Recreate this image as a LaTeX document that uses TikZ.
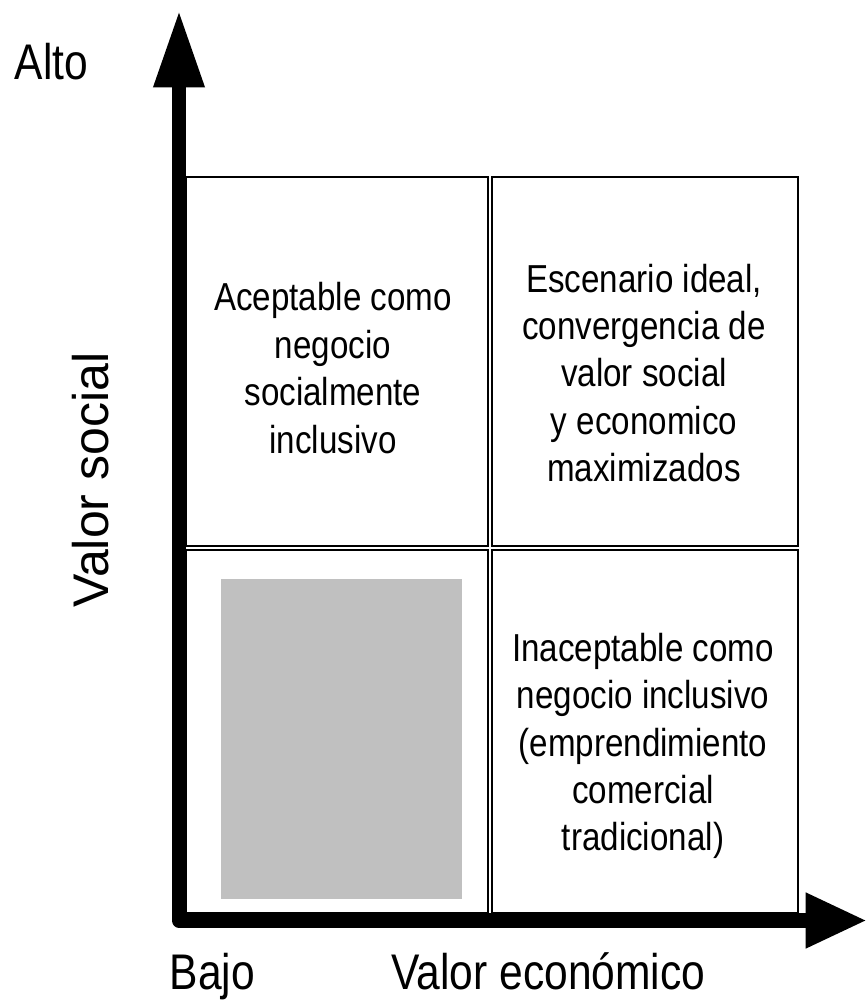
\documentclass[tikz,border=0pt]{standalone}
\usepackage{fontspec}
\setmainfont{Liberation Sans}
\newfontfamily\narrowfont{Liberation Sans}[FakeStretch=0.85]
\usetikzlibrary{arrows.meta}
\begin{document}
\begin{tikzpicture}[x=0.02cm, y=-0.02cm,
    quadrant/.style={draw=black, line width=0.8pt},
    boxtext/.style={align=center, inner sep=0pt, font=\narrowfont\fontsize{22.2pt}{27pt}\selectfont},
    axislabel/.style={inner sep=0pt, font=\narrowfont\fontsize{28.5pt}{34pt}\selectfont}]
            \useasboundingbox (0,0) rectangle (867,1000);

            % Cuadrantes
            \draw[quadrant] (186,177) rectangle (488,546);
            \draw[quadrant] (492,177) rectangle (798,546);
            \draw[quadrant] (186,550) rectangle (488,913);
            \draw[quadrant] (492,550) rectangle (798,913);
            \fill[fill={rgb,255:red,192;green,192;blue,192}] (221,579) rectangle (462,899);

            % Textos de los cuadrantes
            \node[boxtext] (aceptable) at (333,368) {Aceptable como\\negocio\\socialmente\\inclusivo};
            \node[boxtext] (ideal) at (644,373) {Escenario ideal,\\convergencia de\\valor social\\y economico\\maximizados};
            \node[boxtext] (inaceptable) at (643,746) {Inaceptable como\\negocio inclusivo\\(emprendimiento\\comercial\\tradicional)};

            % Ejes
            \coordinate (origen) at (179,920.5);
            \coordinate (ytip) at (179,10);
            \coordinate (xtip) at (867,920.5);
            \draw[line width=8.2pt, line join=round,
                  {Triangle[length=44pt,width=27pt]}-{Triangle[length=35pt,width=29.5pt]}]
                  (ytip) -- (origen) -- (xtip);

            % Etiquetas de los ejes
            \node[axislabel, anchor=base] (alto) at (51.5,80) {Alto};
            \node[axislabel, anchor=base] (bajo) at (212.5,989) {Bajo};
            \node[axislabel, anchor=base] (economico) at (548.5,989) {Valor económico};
            \node[inner sep=0pt, font=\fontsize{28.5pt}{34pt}\selectfont, rotate=90, anchor=base] (social) at (108,480) {Valor social};
        \end{tikzpicture}
\end{document}
